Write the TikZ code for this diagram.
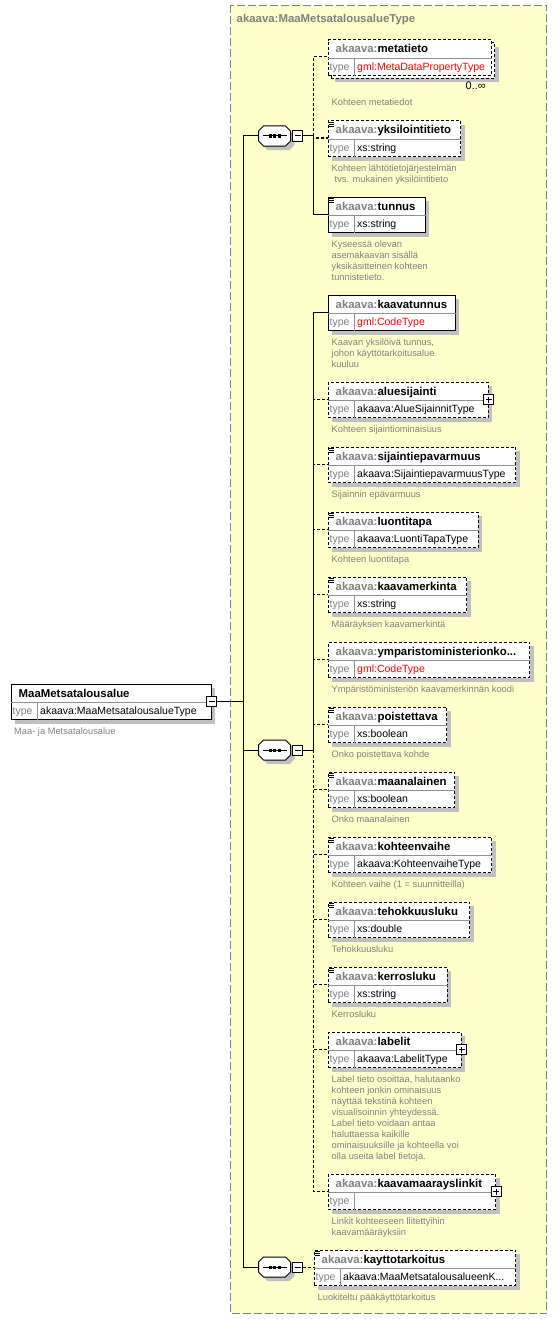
\documentclass[tikz,border=0pt]{standalone}
\usepackage{fontspec}
\setmainfont{Liberation Sans}
\usetikzlibrary{calc,positioning,shadows}

\definecolor{bgyellow}{HTML}{FFFFCC}
\definecolor{framegray}{HTML}{808080}
\definecolor{pfxgray}{HTML}{808080}
\definecolor{shadowgray}{HTML}{C0C0C0}
\definecolor{divgray}{HTML}{909090}

\newcommand{\ak}{\textcolor{pfxgray}{akaava:}}

% element box: [shadow] name, border style, top left, width, element name, type
\newcommand{\element}[7][castshadow]{%
  \node[elbox, #1, #3, minimum width=#5pt] (#2) at (#4) {};
  \draw[divline] ($(#2.north west)+(0,19)$) -- ($(#2.north east)+(0,19)$);
  \draw[divline] ($(#2.north west)+(26.5,19)$) -- ($(#2.south west)+(26.5,0)$);
  \node[elname] (#2-n) at ($(#2.north west)+(8,13.5)$) {#6};
  \node[typelabel] (#2-k) at ($(#2.north west)+(2,31)$) {type};
  \node[typeval] (#2-v) at ($(#2.north west)+(29.5,31)$) {#7};
  \coordinate (#2-in) at ($(#2.north west)+(0,17.5)$);
}

% sequence compositor with its minus box
\newcommand{\sequence}[2]{%
  \node[seq] (#1) at (#2) {};
  \begin{scope}[shift={(#2)}]
    \fill[shadowgray, shift={(4,4)}] (-16,-5) -- (-11,-10) -- (11,-10) -- (16,-5)
      -- (16,5) -- (11,10) -- (-11,10) -- (-16,5) -- cycle;
    \filldraw[fill=white, line width=1pt] (-16,-5) -- (-11,-10) -- (11,-10) -- (16,-5)
      -- (16,5) -- (11,10) -- (-11,10) -- (-16,5) -- cycle;
    \draw[line width=1pt] (-12,0) -- (12,0);
    \foreach \dx in {-4.5,0,4.5}
      \fill (\dx-1.5,-1.5) rectangle (\dx+1.5,1.5);
  \end{scope}
  \node[minusbox, right=1.5pt of #1] (#1-m) {};
}

% simple content mark
\newcommand{\simpletype}[1]{%
  \foreach \dy in {1.5,3.5,5.5}
    \draw[line width=0.8pt] ($(#1.north west)+(1,\dy)$) -- ++(5,0);
}

\begin{document}
\begin{tikzpicture}[x=1pt, y=-1pt,
  typeframe/.style={draw=framegray, fill=bgyellow, line width=1pt, dash pattern=on 8pt off 3pt},
  typetitle/.style={anchor=base west, inner sep=0pt, text=pfxgray, font=\bfseries\fontsize{11.4}{13}\selectfont},
  elbox/.style={draw, fill=white, line width=1pt, minimum height=35.5pt, inner sep=0pt, anchor=north west},
  castshadow/.style={drop shadow={shadow xshift=4pt, shadow yshift=-4pt, fill=shadowgray, opacity=1}},
  optional/.style={dash pattern=on 3pt off 2pt},
  divline/.style={draw=divgray, line width=1pt},
  elname/.style={anchor=base west, inner sep=0pt, font=\bfseries\fontsize{11.4}{13}\selectfont},
  typelabel/.style={anchor=base west, inner sep=0pt, text=pfxgray, font=\fontsize{10.5}{12}\selectfont},
  typeval/.style={anchor=base west, inner sep=0pt, font=\fontsize{10.5}{12}\selectfont},
  note/.style={inner sep=0pt, align=left, text=pfxgray, font=\fontsize{9.3}{11}\selectfont},
  desc/.style={note, below right=7.5pt and 4pt of #1.south west},
  seq/.style={minimum width=32pt, minimum height=20pt, inner sep=0pt},
  toggle/.style={draw, fill=white, line width=1pt, minimum size=10pt, inner sep=0pt},
  minusbox/.style={toggle, path picture={\draw[line width=1pt]
    ([xshift=2pt]path picture bounding box.west) -- ([xshift=-2pt]path picture bounding box.east);}},
  plusbox/.style={toggle, path picture={\draw[line width=1pt]
    ([xshift=2pt]path picture bounding box.west) -- ([xshift=-2pt]path picture bounding box.east)
    ([yshift=-2pt]path picture bounding box.north) -- ([yshift=2pt]path picture bounding box.south);}},
  conn/.style={draw, line width=1pt}
]
\useasboundingbox (0,0) rectangle (557,1319);

% complex type frame
\draw[typeframe] (230.5,5.5) rectangle (546.5,1313.5);
\node[typetitle] (title) at (236.5,23) {akaava:MaaMetsatalousalueType};

% root element
\element{root}{}{10.5,683.5}{200}{MaaMetsatalousalue}{akaava:MaaMetsatalousalueType}
\node[minusbox] (root-m) at ($(root.north east)+(0,18)$) {};
\node[note, below right=8pt and 3.5pt of root.south west] (root-d) {Maa- ja Metsatalousalue};

% compositors
\sequence{s1}{274.5,136}
\sequence{s2}{274.5,750}
\sequence{s3}{274.5,1267}

% first sequence
\node[elbox, castshadow, optional, minimum width=163.5pt] (metatieto-b) at (330.5,42.5) {};
\element[]{metatieto}{optional}{327.5,39.5}{163.5}{\ak metatieto}{\textcolor{red}{gml:MetaDataPropertyType}}
\node[anchor=base east, inner sep=0pt, font=\fontsize{11}{12}\selectfont] (metatieto-occ) at (486,90) {0..∞};
\element{yksilointitieto}{optional}{327.5,120.5}{132.5}{\ak yksilointitieto}{xs:string}
\element{tunnus}{}{327.5,196.5}{97}{\ak tunnus}{xs:string}

% second sequence
\element{kaavatunnus}{}{327.5,294.5}{127}{\ak kaavatunnus}{\textcolor{red}{gml:CodeType}}
\element{aluesijainti}{optional}{327.5,381.5}{160}{\ak aluesijainti}{akaava:AlueSijainnitType}
\element{sijaintiepavarmuus}{optional}{327.5,446.5}{187.5}{\ak sijaintiepavarmuus}{akaava:SijaintiepavarmuusType}
\element{luontitapa}{optional}{327.5,511.5}{150}{\ak luontitapa}{akaava:LuontiTapaType}
\element{kaavamerkinta}{optional}{327.5,576.5}{138.5}{\ak kaavamerkinta}{xs:string}
\element{ymparisto}{optional}{327.5,641.5}{201.5}{\ak ymparistoministerionko...}{\textcolor{red}{gml:CodeType}}
\element{poistettava}{optional}{327.5,706.5}{118.5}{\ak poistettava}{xs:boolean}
\element{maanalainen}{optional}{327.5,771.5}{126.5}{\ak maanalainen}{xs:boolean}
\element{kohteenvaihe}{optional}{327.5,836.5}{163.5}{\ak kohteenvaihe}{akaava:KohteenvaiheType}
\element{tehokkuusluku}{optional}{327.5,901.5}{141.5}{\ak tehokkuusluku}{xs:double}
\element{kerrosluku}{optional}{327.5,966.5}{119}{\ak kerrosluku}{xs:string}
\element{labelit}{optional}{327.5,1031.5}{133}{\ak labelit}{akaava:LabelitType}
\element{kaavamaarayslinkit}{optional}{327.5,1173.5}{167.5}{\ak kaavamaarayslinkit}{}

% third sequence
\element{kayttotarkoitus}{optional}{313.5,1249.5}{201.5}{\ak kayttotarkoitus}{akaava:MaaMetsatalousalueenK...}

\foreach \e in {yksilointitieto,tunnus,sijaintiepavarmuus,luontitapa,kaavamerkinta,poistettava,
  maanalainen,kohteenvaihe,tehokkuusluku,kerrosluku,kayttotarkoitus}
  \simpletype{\e};
\foreach \e in {aluesijainti,labelit,kaavamaarayslinkit}
  \node[plusbox] (\e-p) at ($(\e.north east)+(0,18)$) {};

% descriptions
\node[note, below right=23pt and 4pt of metatieto.south west] (metatieto-d) {Kohteen metatiedot};
\node[desc=yksilointitieto] (yksilointitieto-d) {Kohteen lähtötietojärjestelmän\\\hspace*{3pt}tvs. mukainen yksilöintitieto};
\node[desc=tunnus] (tunnus-d) {Kyseessä olevan\\asemakaavan sisällä\\yksikäsitteinen kohteen\\tunnistetieto.};
\node[desc=kaavatunnus] (kaavatunnus-d) {Kaavan yksilöivä tunnus,\\johon käyttötarkoitusalue\\kuuluu};
\node[desc=aluesijainti] (aluesijainti-d) {Kohteen sijaintiominaisuus};
\node[desc=sijaintiepavarmuus] (sijaintiepavarmuus-d) {Sijainnin epävarmuus};
\node[desc=luontitapa] (luontitapa-d) {Kohteen luontitapa};
\node[desc=kaavamerkinta] (kaavamerkinta-d) {Määräyksen kaavamerkintä};
\node[desc=ymparisto] (ymparisto-d) {Ympäristöministeriön kaavamerkinnän koodi};
\node[desc=poistettava] (poistettava-d) {Onko poistettava kohde};
\node[desc=maanalainen] (maanalainen-d) {Onko maanalainen};
\node[desc=kohteenvaihe] (kohteenvaihe-d) {Kohteen vaihe (1 = suunnitteilla)};
\node[desc=tehokkuusluku] (tehokkuusluku-d) {Tehokkuusluku};
\node[desc=kerrosluku] (kerrosluku-d) {Kerrosluku};
\node[desc=labelit] (labelit-d) {Label tieto osoittaa, halutaanko\\kohteen jonkin ominaisuus\\näyttää tekstinä kohteen\\visualisoinnin yhteydessä.\\Label tieto voidaan antaa\\haluttaessa kaikille\\ominaisuuksille ja kohteella voi\\olla useita label tietoja.};
\node[desc=kaavamaarayslinkit] (kaavamaarayslinkit-d) {Linkit kohteeseen liitettyihin\\kaavamääräyksiin};
\node[desc=kayttotarkoitus] (kayttotarkoitus-d) {Luokiteltu pääkäyttötarkoitus};

% connectors
\coordinate (hub) at (243.5,701.5);
\draw[conn] (root-m.east) -- (hub);
\foreach \s in {s1,s2,s3}
  \draw[conn] (hub) |- (\s.west);
\coordinate[right=10pt of s1-m] (b1);
\coordinate[right=10pt of s2-m] (b2);
\draw[conn] (s1-m.east) -- (b1);
\draw[conn, optional] (b1) |- (metatieto-in);
\draw[conn, optional] (b1) |- (yksilointitieto-in);
\draw[conn] (b1) |- (tunnus-in);
\draw[conn] (s2-m.east) -- (b2);
\draw[conn] (b2) |- (kaavatunnus-in);
\foreach \e in {aluesijainti,sijaintiepavarmuus,luontitapa,kaavamerkinta,ymparisto,poistettava,
  maanalainen,kohteenvaihe,tehokkuusluku,kerrosluku,labelit,kaavamaarayslinkit}
  \draw[conn, optional] (b2) |- (\e-in);
\draw[conn, optional] (s3-m.east) -- (kayttotarkoitus-in);
\end{tikzpicture}
\end{document}
